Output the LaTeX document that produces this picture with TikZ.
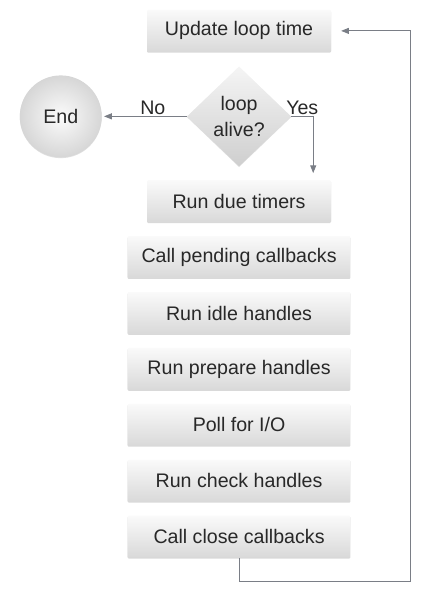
\documentclass[tikz,border=0pt]{standalone}
\usepackage{fontspec}
\setmainfont{Liberation Sans}
\usepackage{tikz}
\usetikzlibrary{positioning,arrows.meta,shapes.geometric,shadows}
\usepackage{xcolor}
\definecolor{linegray}{RGB}{122,126,134}
\definecolor{txtgray}{RGB}{40,40,40}

\begin{document}
\begin{tikzpicture}[node distance=0.45cm, every node/.style={font=\fontsize{18.6}{24}\selectfont, text=txtgray}, >={Triangle[length=2.6mm,width=2mm]}]
\tikzstyle{box}=[top color=gray!4, bottom color=gray!30, rounded corners=1pt, minimum width=6.13cm, minimum height=1.4cm, align=center, drop shadow={opacity=0.3, shadow xshift=0pt, shadow yshift=-0.8pt}]
\tikzstyle{widebox}=[box, minimum width=7.43cm]
\tikzstyle{link}=[draw=linegray, line width=0.9pt]
\useasboundingbox (0,0) rectangle (14.63,-20.07);
\node[box] (upd) at (7.97,-1.03) {Update loop time};
\node[diamond, top color=gray!8, bottom color=gray!38, minimum width=3.47cm, minimum height=3.33cm, inner sep=0pt, align=center, drop shadow={opacity=0.25, shadow xshift=0pt, shadow yshift=-0.8pt}, below=0.47cm of upd] (alive) {loop\\alive?};
\node[circle, inner color=gray!3, outer color=gray!32, minimum size=2.73cm, drop shadow={opacity=0.25, shadow xshift=0pt, shadow yshift=-0.8pt}, left=2.83cm of alive] (endc) {End};
\node[box, below=of alive] (timers) {Run due timers};
\node[widebox, below=of timers] (pending) {Call pending callbacks};
\node[widebox, below=of pending] (idle) {Run idle handles};
\node[widebox, below=of idle] (prepare) {Run prepare handles};
\node[widebox, below=of prepare] (poll) {Poll for I/O};
\node[widebox, below=of poll] (check) {Run check handles};
\node[widebox, below=of check] (close) {Call close callbacks};
\draw[link, ->, shorten >=0.07cm] (alive.west) -- node[above, inner sep=1pt, pos=0.4] {No} (endc);
\draw[link, ->, shorten >=0.23cm] (alive.east) -| node[above, inner sep=1pt, pos=0.25] {Yes} ([xshift=-0.6cm]timers.north east);
\draw[link, ->, shorten >=0.33cm] (close.south) -- ++(0,-0.77) -| ([xshift=2.63cm]upd.east) -- (upd.east);
\end{tikzpicture}
\end{document}
